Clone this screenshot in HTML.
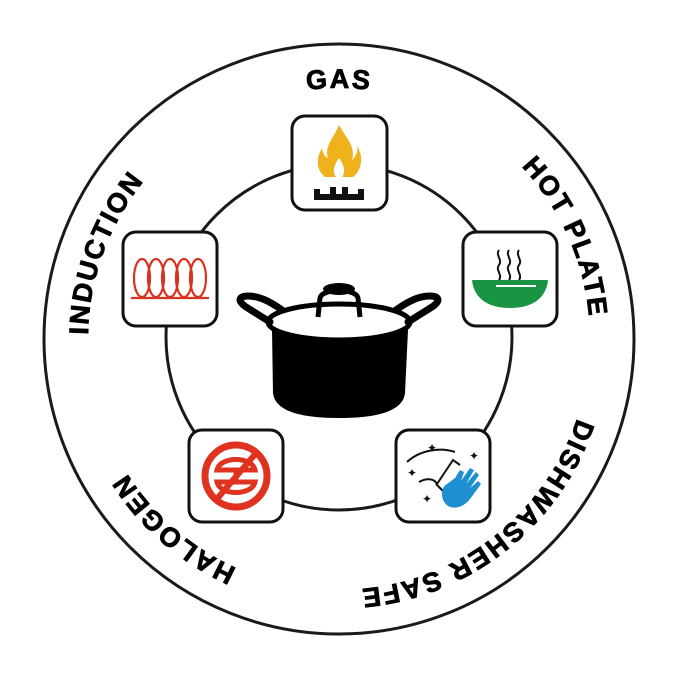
<!DOCTYPE html>
<html><head><meta charset="utf-8"><style>
html,body{margin:0;padding:0;background:#fff;}
svg{display:block}
</style></head><body>
<svg width="679" height="679" viewBox="0 0 679 679" xmlns="http://www.w3.org/2000/svg">
<circle cx="339" cy="339" r="295" fill="none" stroke="#1a1a1a" stroke-width="3"/>
<circle cx="339" cy="337" r="173" fill="none" stroke="#1a1a1a" stroke-width="3"/>
<defs><path id="tp" d="M339,590 A251,251 0 1,1 339,88 A251,251 0 1,1 339,590"/></defs>
<g font-family="Liberation Sans, sans-serif" font-weight="bold" font-size="27" fill="#000" stroke="#000" stroke-width="0.8" letter-spacing="2">
<text text-anchor="middle"><textPath href="#tp" startOffset="50%">GAS</textPath></text>
<text text-anchor="middle"><textPath href="#tp" startOffset="68.3%">HOT PLATE</textPath></text>
<text text-anchor="middle"><textPath href="#tp" startOffset="89.4%">DISHWASHER SAFE</textPath></text>
<text text-anchor="middle"><textPath href="#tp" startOffset="11.4%">HALOGEN</textPath></text>
<text text-anchor="middle"><textPath href="#tp" startOffset="30.6%">INDUCTION</textPath></text>
</g>
<g fill="#fff" stroke="#111" stroke-width="3">
<rect x="292" y="116" width="95" height="94" rx="13"/>
<rect x="123" y="232" width="94" height="94" rx="13"/>
<rect x="463" y="232" width="94" height="94" rx="13"/>
<rect x="189" y="430" width="94" height="92" rx="13"/>
<rect x="396" y="430" width="94" height="92" rx="13"/>
</g>
<!-- gas -->
<path d="M339,125 C346,138 356,146 352,160 C357,155 358,150 357,146 C364,156 362,170 353,177 L325,177 C316,170 316,158 322,148 C323,154 325,157 328,158 C324,146 334,138 339,125 Z" fill="#f0b21c"/>
<path d="M339,158 C344,165 346,172 342,177 L336,177 C332,172 334,165 339,158Z" fill="#fff"/>
<path d="M314,200 L314,189 L320,189 L320,194 L330,194 L330,187 L336,187 L336,194 L342,194 L342,187 L348,187 L348,194 L358,194 L358,189 L364,189 L364,200 Z" fill="#111"/>
<!-- induction -->
<g fill="none" stroke="#d9321f" stroke-width="2.2">
<path d="M131,298 L209,298"/>
<ellipse cx="142" cy="278" rx="8" ry="19"/><ellipse cx="156" cy="278" rx="8" ry="19"/><ellipse cx="170" cy="278" rx="8" ry="19"/><ellipse cx="184" cy="278" rx="8" ry="19"/><ellipse cx="198" cy="278" rx="8" ry="19"/>
</g>
<!-- hot plate -->
<g fill="none" stroke="#111" stroke-width="2"><path d="M499,250 c-4,5 4,10 0,15 c-4,5 4,10 0,15"/><path d="M509,250 c-4,5 4,10 0,15 c-4,5 4,10 0,15"/><path d="M519,250 c-4,5 4,10 0,15 c-4,5 4,10 0,15"/></g>
<path d="M472,280 L548,280 C546,300 530,308 510,308 C490,308 474,300 472,280Z" fill="#189442"/>
<path d="M496,286 L536,286" stroke="#fff" stroke-width="2"/>
<!-- halogen -->
<g fill="none" stroke="#e0331f">
<circle cx="236" cy="476" r="31" stroke-width="7"/>
<path d="M217,470 C220,456 252,456 255,470 Z" stroke-width="5"/>
<path d="M217,482 C220,496 252,496 255,482 Z" stroke-width="5"/>
<path d="M236,470 L236,482" stroke-width="5"/>
<path d="M216,500 L257,452" stroke-width="6"/>
</g>
<!-- dishwasher -->
<g fill="none" stroke="#111" stroke-width="2"><path d="M407,462 C420,450 440,447 455,452"/><path d="M419,482 C426,478 434,478 437,484"/><path d="M437,484 L453,460 L460,465"/><path d="M436,484 L444,492"/></g>
<g fill="#111" font-size="12" font-family="DejaVu Sans, sans-serif"><text x="427" y="452">✦</text><text x="469" y="460">✦</text><text x="407" y="477">✦</text><text x="422" y="503">✦</text></g>
<path d="M448,506 C440,500 440,488 447,484 L455,478 L460,470 L464,472 L461,481 L470,468 L474,470 L466,484 L476,472 L479,475 L470,488 L478,481 L481,484 L470,499 C465,506 455,510 448,506Z" fill="#1e8fd0"/>
<!-- pot -->
<path d="M272,330 L408,330 L405,393 C403,412 375,418 339,418 C303,418 275,412 273,393 Z" fill="#000"/>
<ellipse cx="339" cy="322" rx="71" ry="18" fill="#fff" stroke="#000" stroke-width="5"/>
<path d="M270,322 L246,307 C236,300 240,296 248,296 C258,296 268,300 282,310" fill="none" stroke="#000" stroke-width="7" stroke-linecap="round"/>
<path d="M408,322 L432,307 C442,300 438,296 430,296 C420,296 410,300 396,310" fill="none" stroke="#000" stroke-width="7" stroke-linecap="round"/>
<path d="M318,317 L320,298 C322,288 356,288 358,298 L360,317" fill="none" stroke="#000" stroke-width="5"/>
<ellipse cx="339" cy="289" rx="16" ry="6" fill="#000"/>
</svg>
</body></html>
